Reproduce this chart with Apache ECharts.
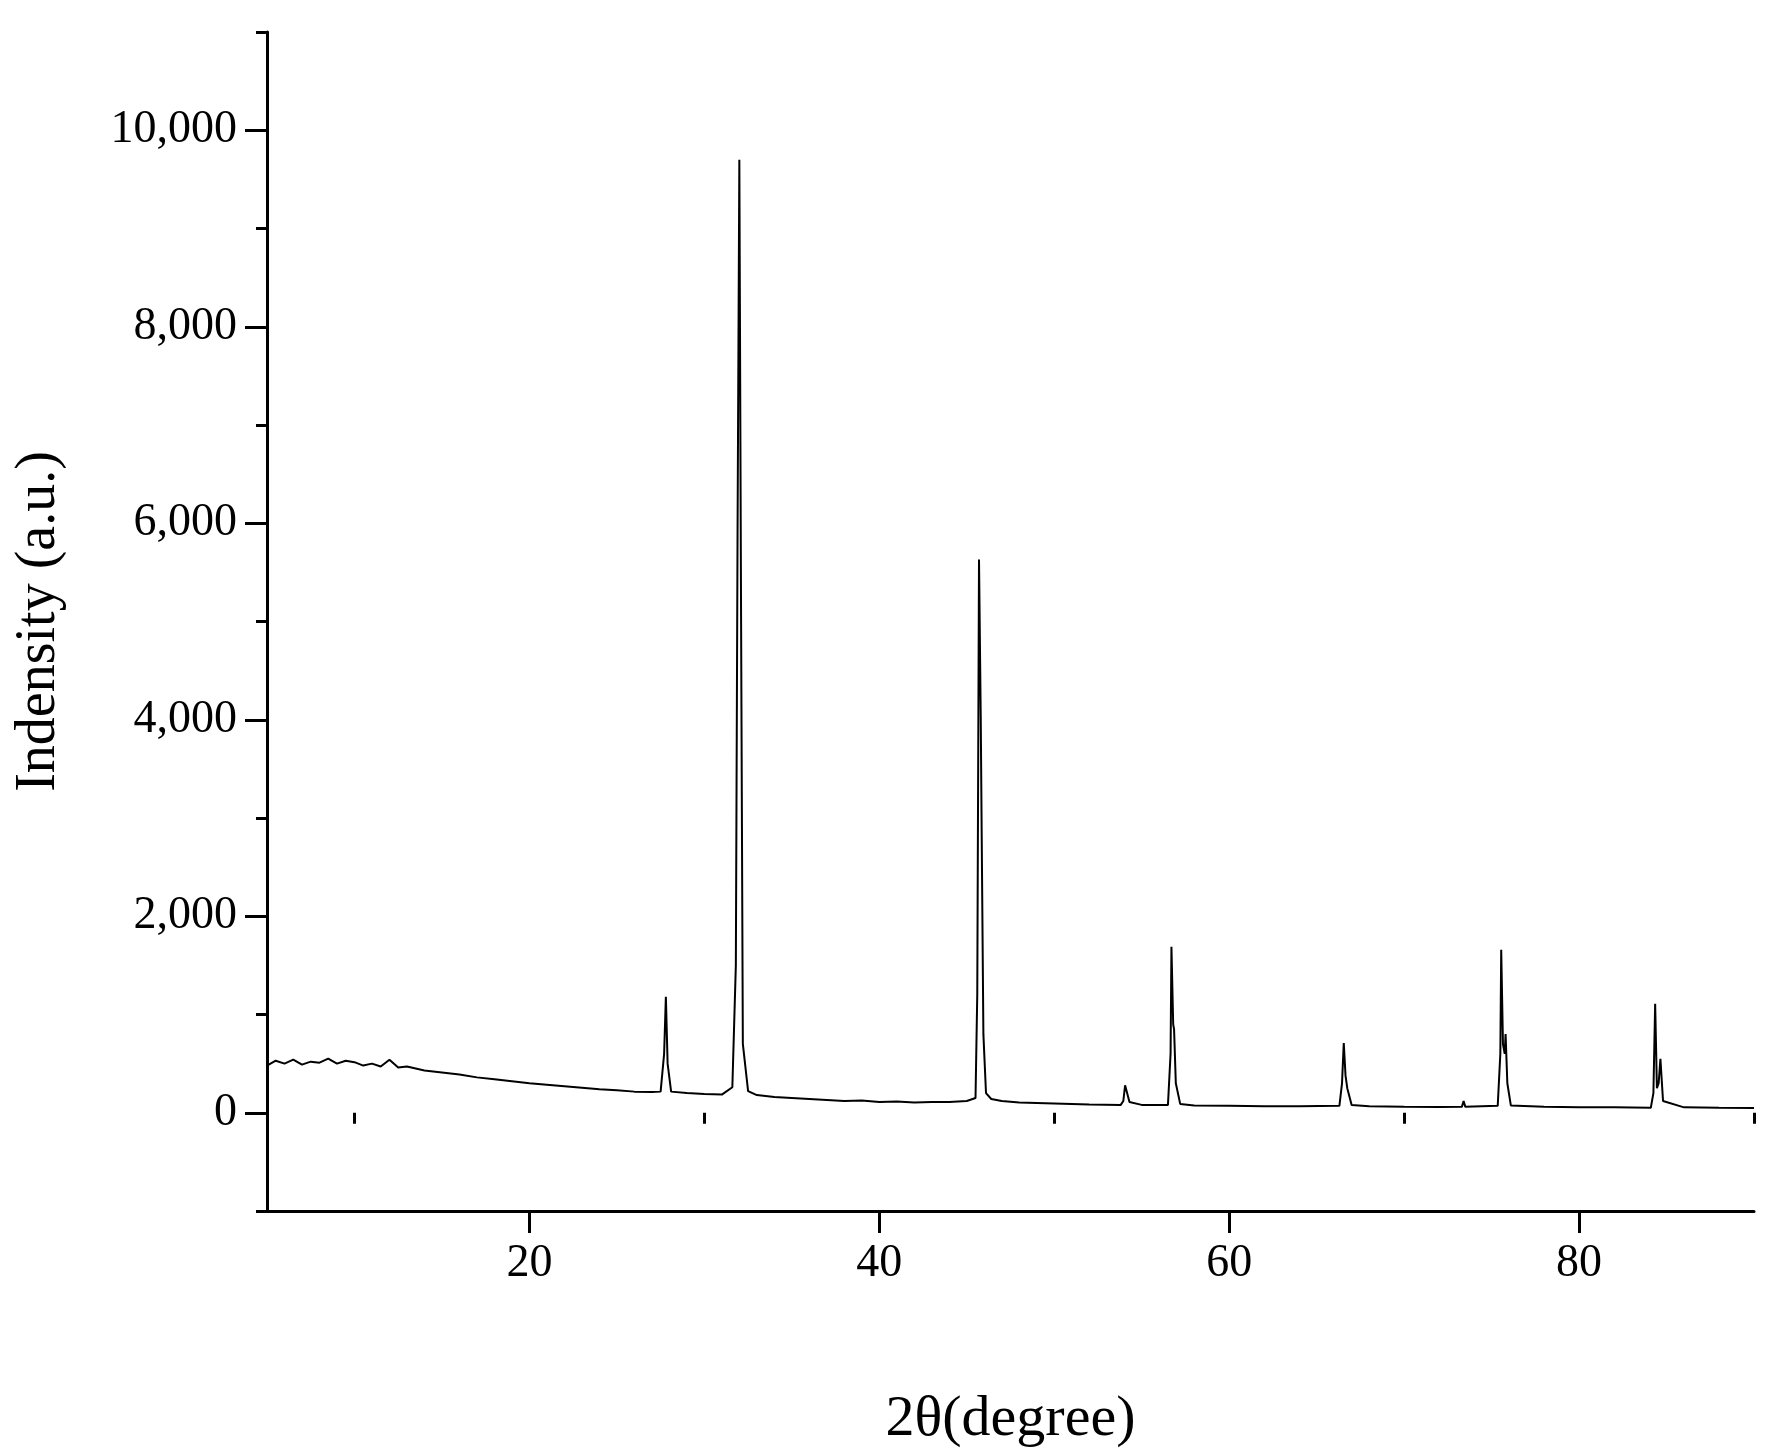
<!DOCTYPE html>
<html><head><meta charset="utf-8">
<script src="https://cdn.jsdelivr.net/npm/echarts@6/dist/echarts.min.js"></script>
<style>html,body{margin:0;background:#fff}#c{width:1768px;height:1454px}</style>
</head><body><div id="c"></div>
<script>
const twoTheta = [5,5.5,6,6.5,7,7.5,8,8.5,9,9.5,10,10.5,11,11.5,12,12.5,13,14,15,16,17,18,19,20,21,22,23,24,25,26,27,27.5,27.7,27.8,27.9,28.1,29,30,31,31.6,31.8,31.9,32.0,32.1,32.2,32.5,33,34,35,36,37,38,39,40,41,42,43,44,45,45.5,45.6,45.7,45.8,45.85,45.95,46.1,46.4,47,48,50,52,53.8,53.95,54.05,54.3,55,56.5,56.65,56.7,56.8,56.85,56.95,57.2,58,60,62,64,66.3,66.45,66.55,66.65,66.75,67.0,68,70,72,73.3,73.4,73.5,75.35,75.5,75.55,75.65,75.75,75.8,75.9,76.1,78,80,82,84.1,84.2,84.25,84.35,84.45,84.55,84.65,84.8,86,88,90];
const intensity = [480,530,500,540,490,520,510,550,500,530,515,480,500,470,540,460,470,430,410,390,360,340,320,300,285,270,255,240,230,215,210,215,600,1180,500,215,200,190,185,260,1500,6000,9700,5000,700,220,180,160,150,140,130,120,125,110,115,105,110,110,120,150,1200,5630,4000,2900,800,200,140,120,105,95,85,80,120,280,110,80,80,600,1690,900,850,300,90,75,70,65,65,70,300,710,380,250,80,65,60,58,60,120,60,70,600,1660,700,600,800,300,75,60,55,55,50,55,200,1110,250,300,550,120,55,50,48,45];
const xTicks = [20,40,60,80];
const xMinorTicks = [10,30,50,70,90];
const yTicks = [0,2000,4000,6000,8000,10000];
const yMinorTicks = [-1000,1000,3000,5000,7000,9000,11000];
const chart = echarts.init(document.getElementById('c'));
const font = '"Liberation Serif","DejaVu Serif",serif';
const lab = {margin:30,fontFamily:font,fontSize:46,color:'#000'};
chart.setOption({
  animation:false,
  grid:{left:267,top:32,right:14,bottom:239},
  xAxis:[{type:'value',min:5,max:90,
    name:'2θ(degree)',nameLocation:'middle',nameGap:180,
    nameTextStyle:{fontFamily:font,fontSize:58,color:'#000'},
    axisLine:{onZero:false,lineStyle:{color:'#000',width:3}},
    axisTick:{length:22,lineStyle:{color:'#000',width:3},customValues:xTicks},
    axisLabel:Object.assign({customValues:xTicks},lab),
    splitLine:{show:false}},
   {type:'value',min:5,max:90,position:'bottom',
    axisLine:{show:false},
    axisTick:{length:11,lineStyle:{color:'#000',width:3},customValues:xMinorTicks},
    axisLabel:{show:false},splitLine:{show:false}}],
  yAxis:[{type:'value',min:-1000,max:11000,
    name:'Indensity (a.u.)',nameLocation:'middle',nameGap:200,
    nameTextStyle:{fontFamily:font,fontSize:56,color:'#000'},
    axisLine:{show:true,lineStyle:{color:'#000',width:3}},
    axisTick:{length:22,lineStyle:{color:'#000',width:3},customValues:yTicks},
    axisLabel:Object.assign({customValues:yTicks},lab),
    splitLine:{show:false}},
   {type:'value',min:-1000,max:11000,position:'left',
    axisLine:{show:false},
    axisTick:{show:true,length:11,lineStyle:{color:'#000',width:3},customValues:yMinorTicks},
    axisLabel:{show:false},splitLine:{show:false}}],
  series:[{type:'line',showSymbol:false,
    data:twoTheta.map((x,i)=>[x,intensity[i]]),
    lineStyle:{color:'#000',width:2}}]
});
</script></body></html>
